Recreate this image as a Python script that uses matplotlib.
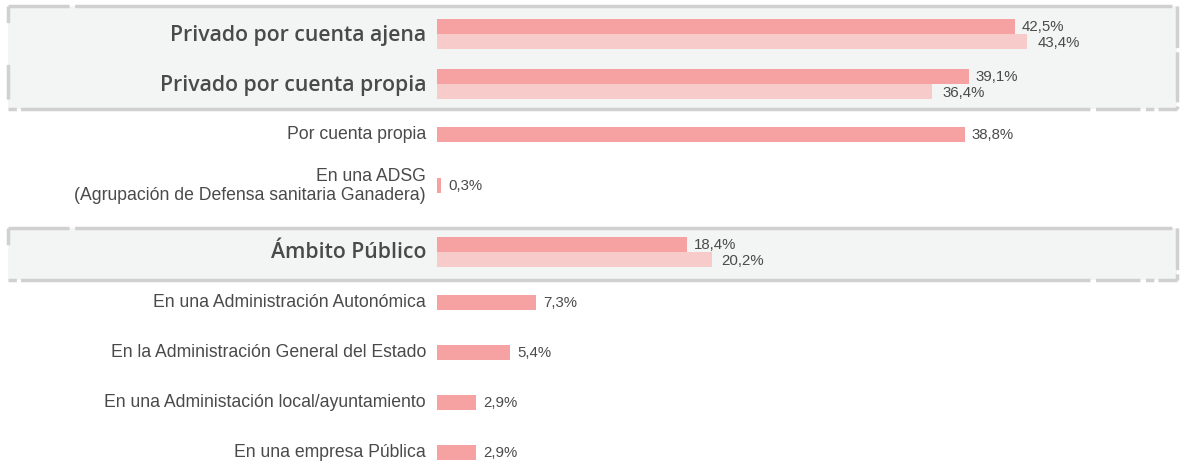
import matplotlib.pyplot as plt
from matplotlib.patches import Rectangle

plt.rcParams["font.family"] = ["Liberation Sans", "DejaVu Sans"]
plt.rcParams["lines.scale_dashes"] = False

# ── datos ────────────────────────────────────────────────────────────────
categorias = [
    "Privado por cuenta ajena",
    "Privado por cuenta propia",
    "Por cuenta propia",
    "En una ADSG\n(Agrupación de Defensa sanitaria Ganadera)",
    "Ámbito Público",
    "En una Administración Autonómica",
    "En la Administración General del Estado",
    "En una Administación local/ayuntamiento",
    "En una empresa Pública",
]
es_grupo = [True, True, False, False, True, False, False, False, False]
valores = [42.5, 39.1, 38.8, 0.3, 18.4, 7.3, 5.4, 2.9, 2.9]
valores_prev = [43.4, 36.4, None, None, 20.2, None, None, None, None]

# ── maquetación (pixeles) ────────────────────────────────────────────────
W, H = 1180, 464
X0 = 437          # origen de las barras
PX = 13.6         # pixeles por punto porcentual
fila_y = [35, 85, 135, 186, 253, 303, 353, 403, 453]
cajas = [(7, 110), (229, 281)]

OSCURO = "#f7a2a2"
CLARO = "#f7cbca"
GRIS = "#f3f4f4"
BORDE = "#d0d0d0"
TEXTO = "#4a4a4a"


def px(p):
    return (p - X0) / PX


def fmt(v):
    return f"{v:.1f}".replace(".", ",") + "%"


fig = plt.figure(figsize=(W / 100, H / 100), dpi=100)
ax = fig.add_axes([0, 0, 1, 1])
ax.set_xlim(px(0), px(W))
ax.set_ylim(H, 0)
ax.axis("off")

# cajas grises con borde discontinuo
for y0, y1 in cajas:
    ax.add_patch(Rectangle((px(8), y0), px(1177) - px(8), y1 - y0,
                           facecolor=GRIS, edgecolor="none", zorder=0))
    kw = dict(color=BORDE, lw=2.5, zorder=1, solid_capstyle="butt")
    ax.plot([px(8), px(1177)], [y0, y0], dashes=(44, 4, 790, 4), **kw)
    ax.plot([px(8), px(1177)], [y1, y1], dashes=(6, 3, 770, 4, 32, 4), **kw)
    ax.plot([px(8), px(8)], [y0, y1], dashes=(12, 30, 25, 8), **kw)
    ax.plot([px(1177), px(1177)], [y0, y1], dashes=(30, 3, 36, 3), **kw)

for y, cat, grupo, v, vp in zip(fila_y, categorias, es_grupo, valores, valores_prev):
    if grupo:
        ax.text(px(426), y, cat, ha="right", va="center",
                fontsize=15.3, color=TEXTO, fontweight=600,
                family=["Open Sans", "Liberation Sans"])
    else:
        ax.text(px(426), y, cat, ha="right", va="center",
                fontsize=12.7, color=TEXTO, linespacing=1.2)

    if vp is None:
        ax.barh(y, v, height=15, color=OSCURO, zorder=2)
        ax.text(v + 7 / PX, y, fmt(v), ha="left", va="center",
                fontsize=10.8, color=TEXTO)
    else:
        ax.barh(y - 7.5, v, height=15, color=OSCURO, zorder=2)
        ax.barh(y + 7.5, vp, height=15, color=CLARO, zorder=2)
        ax.text(v + 7 / PX, y - 8, fmt(v), ha="left", va="center",
                fontsize=10.8, color=TEXTO)
        ax.text(vp + 10 / PX, y + 8, fmt(vp), ha="left", va="center",
                fontsize=10.8, color=TEXTO)

fig.savefig("out.png", dpi=100)
